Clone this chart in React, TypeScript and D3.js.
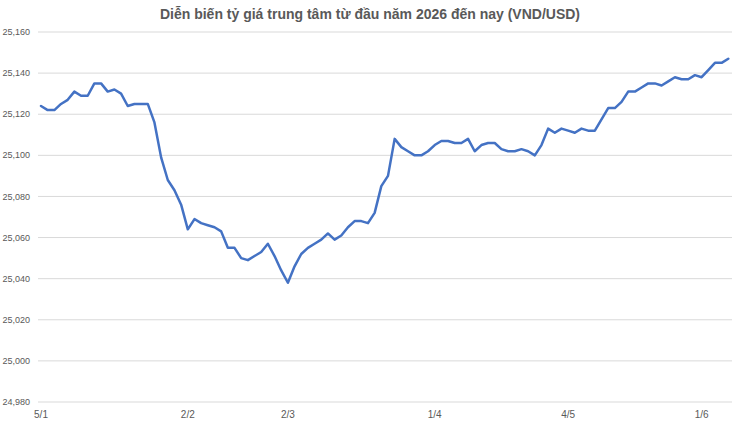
import * as d3 from 'd3';
import React, { useEffect, useRef } from 'react';

const rates = [
    25124, 25122, 25122, 25125, 25127, 25131, 25129, 25129, 25135, 25135,
    25131, 25132, 25130, 25124, 25125, 25125, 25125, 25116, 25099, 25088,
    25083, 25076, 25064, 25069, 25067, 25066, 25065, 25063, 25055, 25055,
    25050, 25049, 25051, 25053, 25057, 25051, 25044, 25038, 25046, 25052,
    25055, 25057, 25059, 25062, 25059, 25061, 25065, 25068, 25068, 25067,
    25072, 25085, 25090, 25108, 25104, 25102, 25100, 25100, 25102, 25105,
    25107, 25107, 25106, 25106, 25108, 25102, 25105, 25106, 25106, 25103,
    25102, 25102, 25103, 25102, 25100, 25105, 25113, 25111, 25113, 25112,
    25111, 25113, 25112, 25112, 25117.5, 25123, 25123, 25126, 25131, 25131,
    25133, 25135, 25135, 25134, 25136, 25138, 25137, 25137, 25139, 25138,
    25141.5, 25145, 25145, 25147,
];

// index in the series where each date label sits
const tickIndexes = [0, 22, 37, 59, 79, 99];
const tickLabels = ['5/1', '2/2', '2/3', '1/4', '4/5', '1/6'];

const yTicks = [24980, 25000, 25020, 25040, 25060, 25080, 25100, 25120, 25140, 25160];

const title = 'Diễn biến tỷ giá trung tâm từ đầu năm 2026 đến nay (VND/USD)';

const width = 740;
const height = 423;

const App: React.FC = () => {
    const svgRef = useRef<SVGSVGElement | null>(null);

    useEffect(() => {
        if (!svgRef.current) return;
        const svg = d3.select(svgRef.current);
        svg.selectAll('*').remove();

        const x = d3
            .scaleLinear()
            .domain([0, rates.length - 1])
            .range([41, 728.3]);
        const y = d3.scaleLinear().domain([24980, 25160]).range([402, 32]);

        svg.append('text')
            .attr('x', 370)
            .attr('y', 19)
            .attr('text-anchor', 'middle')
            .attr('font-family', 'Liberation Sans, Arial, sans-serif')
            .attr('font-weight', 'bold')
            .attr('font-size', 14)
            .attr('fill', '#595959')
            .text(title);

        const grid = svg.append('g');
        yTicks.forEach((t) => {
            grid.append('line')
                .attr('x1', 38)
                .attr('x2', 732)
                .attr('y1', y(t))
                .attr('y2', y(t))
                .attr('stroke', '#d9d9d9')
                .attr('stroke-width', 1);
            grid.append('text')
                .attr('x', 30)
                .attr('y', y(t))
                .attr('dy', '0.35em')
                .attr('text-anchor', 'end')
                .attr('font-family', 'Liberation Sans Narrow, Liberation Sans, Arial, sans-serif')
                .attr('font-size', 9)
                .attr('fill', '#595959')
                .text(d3.format(',')(t));
        });

        tickIndexes.forEach((idx, k) => {
            svg.append('text')
                .attr('x', x(idx))
                .attr('y', 418)
                .attr('text-anchor', 'middle')
                .attr('font-family', 'Liberation Sans Narrow, Liberation Sans, Arial, sans-serif')
                .attr('font-size', 10)
                .attr('fill', '#595959')
                .text(tickLabels[k]);
        });

        const line = d3
            .line<number>()
            .x((_, i) => x(i))
            .y((d) => y(d));

        svg.append('path')
            .datum(rates)
            .attr('d', line)
            .attr('fill', 'none')
            .attr('stroke', '#4472c4')
            .attr('stroke-width', 2.5)
            .attr('stroke-linejoin', 'round')
            .attr('stroke-linecap', 'round');
    }, []);

    return (
        <svg
            ref={svgRef}
            width={width}
            height={height}
            style={{ position: 'absolute', left: 0, top: 0, background: '#fff' }}
        />
    );
};

export default App;
